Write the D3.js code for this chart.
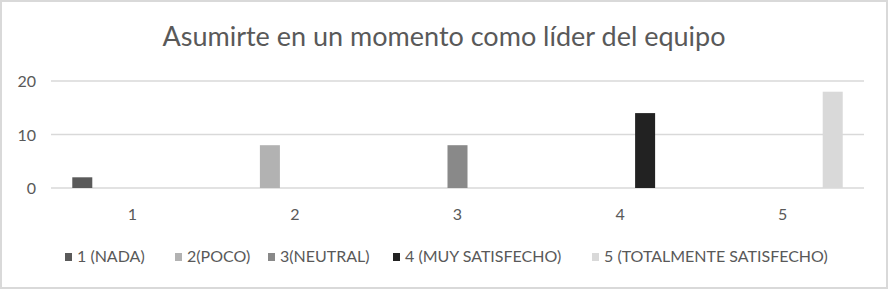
<!DOCTYPE html>
<html>
<head>
<meta charset="utf-8">
<script src="https://cdn.jsdelivr.net/npm/d3@7/dist/d3.min.js"></script>
<style>
  html, body { margin: 0; padding: 0; background: #fff; }
  svg { display: block; }
</style>
</head>
<body>
<div id="chart"></div>
<script>
// Survey answers, one series per rating level
const categories = ["1", "2", "3", "4", "5"];
const seriesNames = ["1 (NADA)", "2(POCO)", "3(NEUTRAL)", "4 (MUY SATISFECHO)", "5 (TOTALMENTE SATISFECHO)"];
const seriesColors = ["#5a5a5a", "#b2b2b2", "#898989", "#222222", "#d9d9d9"];
// values[s][c]: count for series s in category c
const values = [
  [2, 0, 0, 0, 0],
  [0, 8, 0, 0, 0],
  [0, 0, 8, 0, 0],
  [0, 0, 0, 14, 0],
  [0, 0, 0, 0, 18]
];
const yTicks = [0, 10, 20];
const title = "Asumirte en un momento como líder del equipo";

const W = 888, H = 289;
const font = "Lato, 'Open Sans', sans-serif";
const textColor = "#595959";
const gridColor = "#d9d9d9";

const svg = d3.select("#chart").append("svg")
  .attr("width", W).attr("height", H);

// outer frame
svg.append("rect")
  .attr("x", 1).attr("y", 1).attr("width", W - 2).attr("height", H - 2)
  .attr("fill", "#fff").attr("stroke", "#d9d9d9").attr("stroke-width", 2);

const plot = { left: 51, right: 864, top: 81, bottom: 188 };

const x = d3.scaleBand().domain(categories)
  .range([plot.left, plot.right])
  .paddingInner(0.231).paddingOuter(0.1155);
const xs = d3.scaleBand().domain(d3.range(seriesNames.length))
  .range([0, x.bandwidth()])
  .paddingInner(0.2).paddingOuter(0.1);
const y = d3.scaleLinear().domain([0, 20]).range([plot.bottom, plot.top]);

// gridlines
svg.append("g").selectAll("line").data(yTicks).join("line")
  .attr("x1", plot.left).attr("x2", plot.right)
  .attr("y1", d => y(d)).attr("y2", d => y(d))
  .attr("stroke", gridColor).attr("stroke-width", 1.5);

// y axis labels
const yAxis = d3.axisLeft(y).tickValues(yTicks).tickSize(0).tickPadding(0);
const gy = svg.append("g").attr("transform", `translate(36,0)`).call(yAxis);
gy.select(".domain").remove();
gy.selectAll("text").attr("fill", textColor).attr("dy", "0.36em")
  .style("font-family", font).style("font-size", "16px");

// x axis labels
const xAxis = d3.axisBottom(x).tickSize(0).tickPadding(0);
const gx = svg.append("g").attr("transform", `translate(0,${plot.bottom})`).call(xAxis);
gx.select(".domain").remove();
gx.selectAll("text").attr("fill", textColor).attr("y", 32).attr("dy", 0)
  .style("font-family", font).style("font-size", "16px");

// bars
const barData = [];
values.forEach((row, s) => row.forEach((v, c) => {
  if (v > 0) barData.push({ s, c: categories[c], v });
}));
svg.append("g").selectAll("rect").data(barData).join("rect")
  .attr("x", d => x(d.c) + xs(d.s))
  .attr("width", xs.bandwidth())
  .attr("y", d => y(d.v))
  .attr("height", d => y(0) - y(d.v))
  .attr("fill", d => seriesColors[d.s]);

// title
svg.append("text")
  .attr("x", W / 2).attr("y", 46)
  .attr("text-anchor", "middle")
  .attr("fill", textColor)
  .style("font-family", font).style("font-size", "27px")
  .text(title);

// legend
const legendX = [65, 175, 268, 393, 592];
const lg = svg.append("g").attr("transform", "translate(0,262)");
const items = lg.selectAll("g").data(seriesNames).join("g")
  .attr("transform", (d, i) => `translate(${legendX[i]},0)`);
items.append("rect")
  .attr("x", 0).attr("y", -9).attr("width", 7).attr("height", 8)
  .attr("fill", (d, i) => seriesColors[i]);
items.append("text")
  .attr("x", 12).attr("y", 0)
  .attr("fill", textColor)
  .style("font-family", font).style("font-size", "16px")
  .text(d => d);
</script>
</body>
</html>
